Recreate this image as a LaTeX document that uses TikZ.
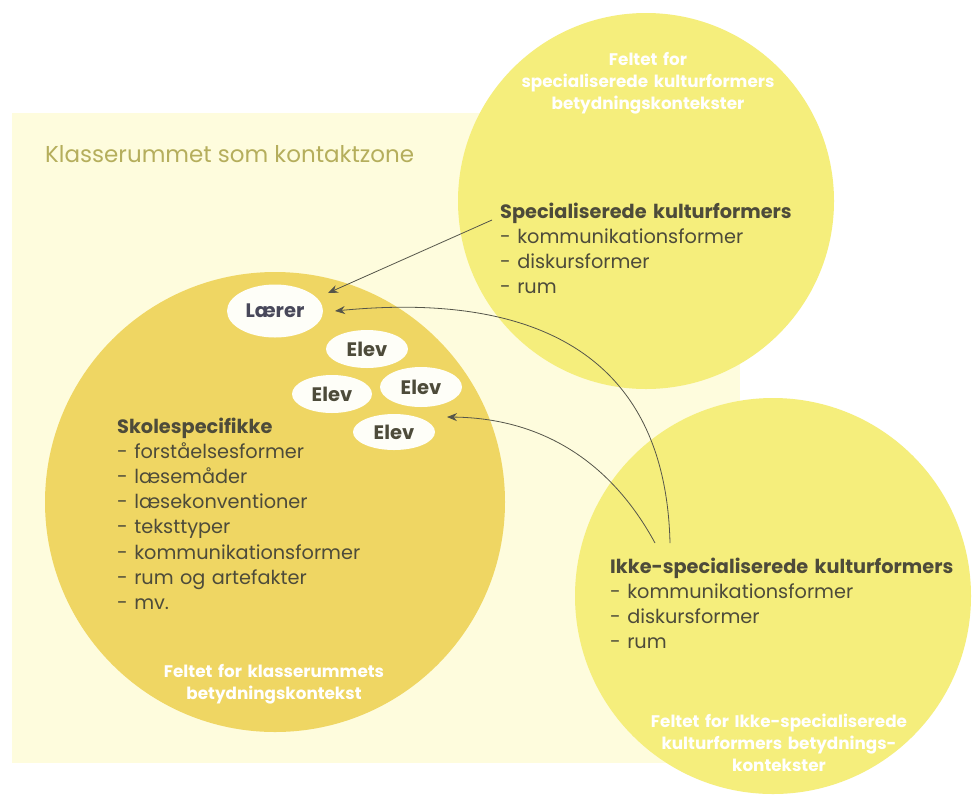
\documentclass[tikz,border=0pt]{standalone}
\usepackage{fontspec}
\setmainfont{Poppins}
\usetikzlibrary{arrows.meta,shapes.geometric}
\definecolor{bgcream}{HTML}{FEFCDD}
\definecolor{leftyellow}{HTML}{EFD663}
\definecolor{lemon}{HTML}{F5EE7C}
\definecolor{bodytext}{HTML}{4D4B3A}
\definecolor{laerertext}{HTML}{48485A}
\definecolor{titletext}{HTML}{B5AE5C}
\definecolor{linecol}{HTML}{55554A}
\definecolor{ellfill}{HTML}{FEFEF8}
\tikzset{
  bodyblock/.style={anchor=base west, inner sep=0pt, text width=400pt, align=left,
    text=bodytext, font=\fontsize{19.3}{25.2}\selectfont},
  whiteblock/.style={anchor=base, inner sep=0pt, text width=340pt, align=center,
    text=white, font=\bfseries\fontsize{16.8}{22}\selectfont},
  person/.style={ellipse, fill=ellfill, inner sep=0pt, text=bodytext,
    font=\bfseries\fontsize{19.5}{20}\selectfont},
  conn/.style={draw=linecol, line width=0.8pt, -{Stealth[length=10pt,width=8pt]}}
}
\begin{document}
\begin{tikzpicture}[x=1pt,y=-1pt]
\useasboundingbox (0,0) rectangle (973,796);
\fill[white] (0,0) rectangle (973,796);
\fill[bgcream] (12,113) rectangle (740,763);
\fill[leftyellow] (275,502) circle[radius=230pt];
\fill[lemon] (646,201) circle[radius=188pt];
\fill[lemon] (773,596) circle[radius=198pt];

\node[anchor=base west, inner sep=0pt, text=titletext, font=\fontsize{23}{25}\selectfont] (title) at (45,162) {Klasserummet som kontaktzone};

\node[whiteblock] (wtop) at (648,65) {Feltet for\\specialiserede kulturformers\\betydningskontekster};
\node[whiteblock] (wleft) at (274,677) {Feltet for klasserummets\\betydningskontekst};
\node[whiteblock] (wright) at (779,727) {Feltet for Ikke-specialiserede\\kulturformers betydnings-\\kontekster};

\node[bodyblock] (spec) at (500,218) {\textbf{Specialiserede kulturformers}\\- kommunikationsformer\\- diskursformer\\- rum};
\node[bodyblock] (skole) at (117,433) {\textbf{Skolespecifikke}\\- forståelsesformer\\- læsemåder\\- læsekonventioner\\- teksttyper\\- kommunikationsformer\\- rum og artefakter\\- mv.};
\node[bodyblock] (ikke) at (610,573) {\textbf{Ikke-specialiserede kulturformers}\\- kommunikationsformer\\- diskursformer\\- rum};

\node[person, minimum width=96pt, minimum height=53pt, text=laerertext] (laerer) at (275,311) {Lærer};
\node[person, minimum width=82pt, minimum height=38pt] (elev1) at (367,349) {Elev};
\node[person, minimum width=80pt, minimum height=38pt] (elev2) at (332,394) {Elev};
\node[person, minimum width=82pt, minimum height=40pt] (elev3) at (421,387) {Elev};
\node[person, minimum width=82pt, minimum height=36pt] (elev4) at (394,432) {Elev};

\coordinate (specstart) at (492,220);
\coordinate (laererA) at (328,293);
\coordinate (laererB) at (335,311);
\coordinate (elevB) at (447,417);
\coordinate (ikkeA) at (670,543);
\coordinate (ikkeB) at (655,543);

\draw[conn] (specstart) -- (laererA);
\draw[conn] (ikkeA) .. controls (665,330) and (500,295) .. (laererB);
\draw[conn] (ikkeB) .. controls (610,460) and (540,418) .. (elevB);
\end{tikzpicture}
\end{document}
